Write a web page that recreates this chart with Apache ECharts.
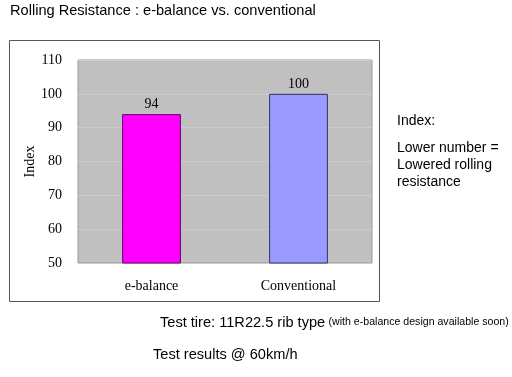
<!DOCTYPE html>
<html>
<head>
<meta charset="utf-8">
<script src="https://cdn.jsdelivr.net/npm/echarts@6/dist/echarts.min.js"></script>
<style>
  html, body { margin: 0; padding: 0; background: #fff; }
  #main { width: 512px; height: 377px; }
</style>
</head>
<body>
<div id="main"></div>
<script>
var categories = ["e-balance", "Conventional"];
var values = [94, 100];
var barColors = ["#ff00ff", "#9999ff"];
var barBorders = ["#660066", "#333366"];
var yTicks = [50, 60, 70, 80, 90, 100, 110];

var chart = echarts.init(document.getElementById("main"));
var sans = "Liberation Sans, Arial, sans-serif";
var serif = "Liberation Serif, DejaVu Serif, serif";

var option = {
  animation: false,
  backgroundColor: "#fff",
  grid: {
    left: 78,
    top: 60,
    right: 140,
    bottom: 114,
    show: true,
    backgroundColor: "#c0c0c0",
    borderColor: "#9a9a9a",
    borderWidth: 1,
  },
  graphic: [
    {
      type: "rect",
      shape: { x: 9.5, y: 40.5, width: 370, height: 261 },
      style: { fill: "none", stroke: "#555", lineWidth: 1 },
      z: -10,
    },
    {
      type: "text", left: 10, top: 3,
      style: { text: "Rolling Resistance : e-balance vs. conventional", font: "14.6px " + sans, fill: "#000" },
    },
    {
      type: "text", left: 397, top: 114,
      style: { text: "Index:", font: "14px " + sans, fill: "#000" },
    },
    {
      type: "text", left: 397, top: 140,
      style: { text: "Lower number =\nLowered rolling\nresistance", font: "14px " + sans, lineHeight: 17, fill: "#000" },
    },
    {
      type: "text", left: 160, top: 315,
      style: {
        text: "{a|Test tire: 11R22.5 rib type} {b|(with e-balance design available soon)}",
        rich: {
          a: { font: "14.6px " + sans, fill: "#000" },
          b: { font: "10.6px " + sans, fill: "#000" },
        },
      },
    },
    {
      type: "text", left: 153, top: 347,
      style: { text: "Test results @ 60km/h", font: "14.6px " + sans, fill: "#000" },
    },
  ],
  xAxis: {
    type: "category",
    data: categories,
    axisLine: { show: false },
    axisTick: { show: false },
    axisLabel: { margin: 16, fontFamily: serif, fontSize: 14, color: "#000" },
  },
  yAxis: {
    type: "value",
    min: yTicks[0],
    max: yTicks[yTicks.length - 1],
    interval: 10,
    name: "Index",
    nameLocation: "middle",
    nameGap: 41,
    nameMoveOverlap: false,
    nameRotate: 90,
    nameTextStyle: { fontFamily: serif, fontSize: 14, color: "#000" },
    axisLine: { show: false },
    axisTick: { show: false },
    axisLabel: { margin: 16, fontFamily: serif, fontSize: 14, color: "#000" },
    splitLine: { show: true, lineStyle: { color: "#cbcbcb", width: 1 } },
  },
  series: [
    {
      type: "bar",
      barWidth: "40%",
      data: values.map(function (v, i) {
        return {
          value: v,
          itemStyle: { color: barColors[i], borderColor: barBorders[i], borderWidth: 1 },
        };
      }),
      label: {
        show: true,
        position: "top",
        distance: 3,
        fontFamily: serif,
        fontSize: 14,
        color: "#000",
      },
    },
  ],
};
chart.setOption(option);
</script>
</body>
</html>
